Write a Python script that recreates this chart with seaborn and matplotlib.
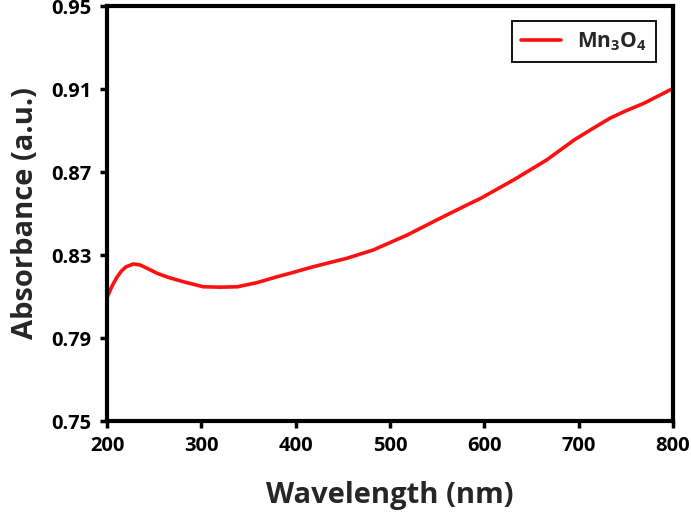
import pandas as pd
import matplotlib.pyplot as plt
import seaborn as sns

# UV-vis absorbance of Mn3O4
wavelength = [200, 205, 210, 215, 220, 228, 235, 242, 253, 265, 281, 302, 320,
              338, 359, 380, 394, 419, 454, 482, 518, 553, 585, 596, 631, 666,
              695, 715, 733, 750, 769, 785, 800]
absorbance = [0.8096, 0.8148, 0.8190, 0.8222, 0.8243, 0.8257, 0.8252, 0.8237,
              0.8212, 0.8192, 0.8171, 0.8147, 0.8145, 0.8147, 0.8167, 0.8195,
              0.8212, 0.8244, 0.8284, 0.8324, 0.8396, 0.8477, 0.8549, 0.8573,
              0.8662, 0.8758, 0.8854, 0.8910, 0.8959, 0.8995, 0.9031, 0.9068,
              0.9103]
x_ticks = [200, 300, 400, 500, 600, 700, 800]
y_ticks = [0.75, 0.79, 0.83, 0.87, 0.91, 0.95]

df = pd.DataFrame({'Wavelength': wavelength, 'Absorbance': absorbance})

sns.set_style("ticks")
plt.rcParams['font.family'] = ['Open Sans', 'DejaVu Sans']
plt.rcParams['font.weight'] = 'bold'
plt.rcParams['mathtext.fontset'] = 'custom'
plt.rcParams['mathtext.rm'] = 'Open Sans:bold'
plt.rcParams['mathtext.bf'] = 'Open Sans:bold'
plt.rcParams['mathtext.default'] = 'bf'

fig = plt.figure(figsize=(6.91, 5.23), dpi=100)
ax = fig.add_axes([0.155, 0.195, 0.819, 0.7935])

sns.lineplot(data=df, x='Wavelength', y='Absorbance', ax=ax,
             color='#ff1010', linewidth=2.6, label=r'Mn$_3$O$_4$')

ax.set_xlim(200, 800)
ax.set_ylim(0.75, 0.95)
ax.set_xticks(x_ticks)
ax.set_yticks(y_ticks)
ax.set_yticklabels([f'{v:.2f}' for v in y_ticks])
ax.tick_params(axis='both', direction='out', length=5, width=2.5,
               labelsize=14.5, colors='black', pad=6)
for lbl in ax.get_xticklabels() + ax.get_yticklabels():
    lbl.set_fontweight('bold')

for side in ['left', 'right', 'top', 'bottom']:
    ax.spines[side].set_visible(True)
    ax.spines[side].set_linewidth(3)
    ax.spines[side].set_color('black')

ax.set_xlabel('Wavelength (nm)', fontsize=21, fontweight='bold', labelpad=18)
ax.set_ylabel('Absorbance (a.u.)', fontsize=21, fontweight='bold', labelpad=8)

leg = ax.legend(loc='upper right', fontsize=15, frameon=True, fancybox=False,
                handlelength=1.9, borderpad=0.45, borderaxespad=0,
                bbox_to_anchor=(0.97, 0.964))
leg.get_frame().set_edgecolor('black')
leg.get_frame().set_linewidth(1.3)
leg.get_frame().set_alpha(1)

plt.savefig('out.png', dpi=100)
